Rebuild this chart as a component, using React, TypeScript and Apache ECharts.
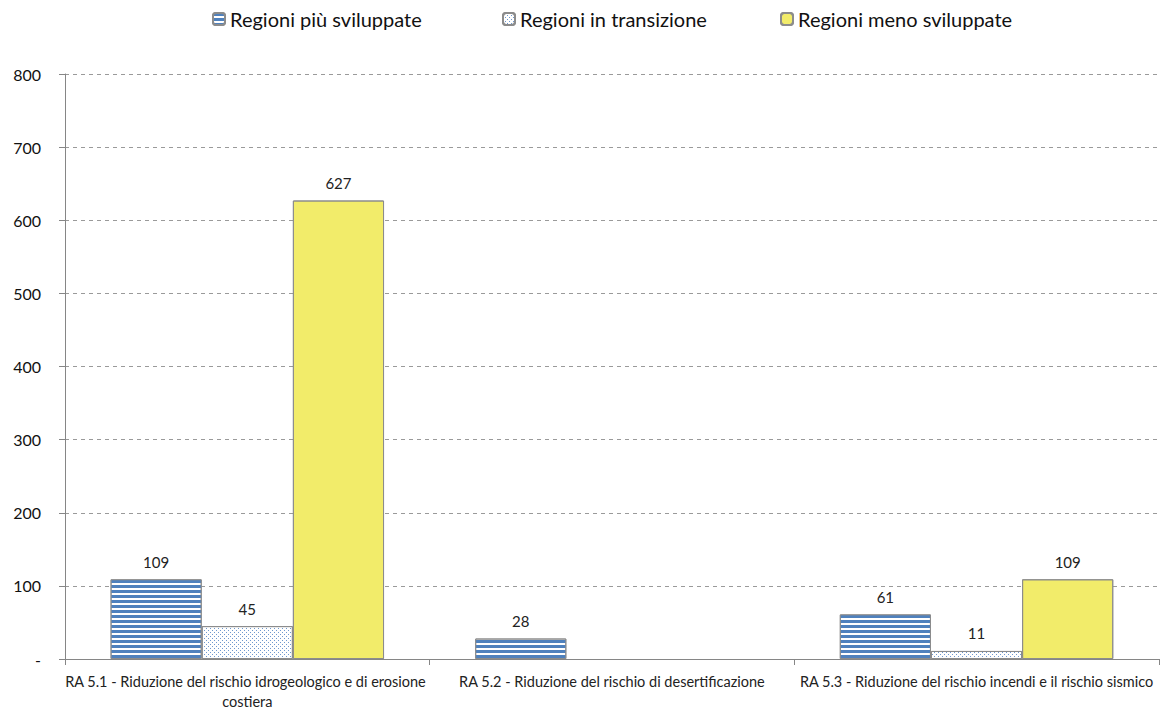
import React, { useEffect, useRef } from "react";
import * as echarts from "echarts";

const categories = [
  "RA 5.1 - Riduzione del rischio idrogeologico e di erosione costiera",
  "RA 5.2 - Riduzione del rischio di desertificazione",
  "RA 5.3 - Riduzione del rischio incendi e il rischio sismico",
];
const seriesNames = ["Regioni più sviluppate", "Regioni in transizione", "Regioni meno sviluppate"];
const piuSviluppate = [109, 28, 61];
const inTransizione = [45, null, 11];
const menoSviluppate = [627, null, 109];
const yTicks = { min: 0, max: 800, interval: 100 };

const FONT = "Lato, 'Open Sans', sans-serif";
const legendLefts = [207, 497, 775];

export default function App() {
  const ref = useRef<HTMLDivElement>(null);
  useEffect(() => {
    document.body.style.margin = "0";
    const chart = echarts.init(ref.current!, null, { renderer: "svg" });
    const label = {
      show: true,
      position: "top",
      distance: 10,
      color: "#222",
      fontSize: 15,
      fontFamily: FONT,
    };
    const border = { borderColor: "#8c8c8c", borderWidth: 1 };
    chart.setOption({
      animation: false,
      aria: { enabled: true, decal: { show: true } },
      textStyle: { fontFamily: FONT },
      legend: seriesNames.map((n, i) => ({
        top: 4,
        left: legendLefts[i],
        itemWidth: 12,
        itemHeight: 12,
        itemGap: 20,
        textStyle: { fontSize: 20, color: "#111", fontFamily: FONT },
        data: [n],
      })),
      grid: { left: 65, right: 0, top: 74, bottom: 49, containLabel: false },
      xAxis: {
        type: "category",
        data: categories,
        axisLine: { lineStyle: { color: "#868686" } },
        axisTick: { show: true, length: 6, lineStyle: { color: "#868686" } },
        axisLabel: {
          fontSize: 14.5,
          color: "#222",
          fontFamily: FONT,
          width: 366,
          overflow: "break",
          interval: 0,
          margin: 12,
          lineHeight: 20,
        },
      },
      yAxis: {
        type: "value",
        min: yTicks.min,
        max: yTicks.max,
        interval: yTicks.interval,
        axisLine: { show: true, lineStyle: { color: "#868686" } },
        axisTick: { show: true, length: 6, lineStyle: { color: "#868686" } },
        splitLine: { lineStyle: { color: "#9a9a9a", type: [4, 4] } },
        axisLabel: {
          fontSize: 16,
          color: "#111",
          fontFamily: FONT,
          margin: 24,
          formatter: (v: number) => (v === 0 ? "-" : String(v)),
        },
      },
      series: [
        {
          name: seriesNames[0],
          type: "bar",
          data: piuSviluppate,
          barGap: "0%",
          barCategoryGap: "25%",
          label,
          itemStyle: {
            color: "#ffffff",
            ...border,
            decal: {
              symbol: "rect",
              symbolSize: 1,
              color: "#4F81BD",
              dashArrayX: [1, 0],
              dashArrayY: [3, 2],
              rotation: 0,
            },
          },
        },
        {
          name: seriesNames[1],
          type: "bar",
          data: inTransizione,
          barGap: "0%",
          barCategoryGap: "25%",
          label,
          itemStyle: {
            color: "#ffffff",
            ...border,
            decal: {
              symbol: "rect",
              symbolSize: 1,
              color: "#6F98CE",
              dashArrayX: [
                [1, 3],
                [0, 2, 1, 1],
              ],
              dashArrayY: [1, 1],
              rotation: 0,
            },
          },
        },
        {
          name: seriesNames[2],
          type: "bar",
          data: menoSviluppate,
          barGap: "0%",
          barCategoryGap: "25%",
          label,
          itemStyle: {
            color: "#F2EC6A",
            ...border,
            decal: { symbol: "none" },
          },
        },
      ],
    });
    return () => chart.dispose();
  }, []);
  return <div ref={ref} style={{ width: 1162, height: 711 }} />;
}
